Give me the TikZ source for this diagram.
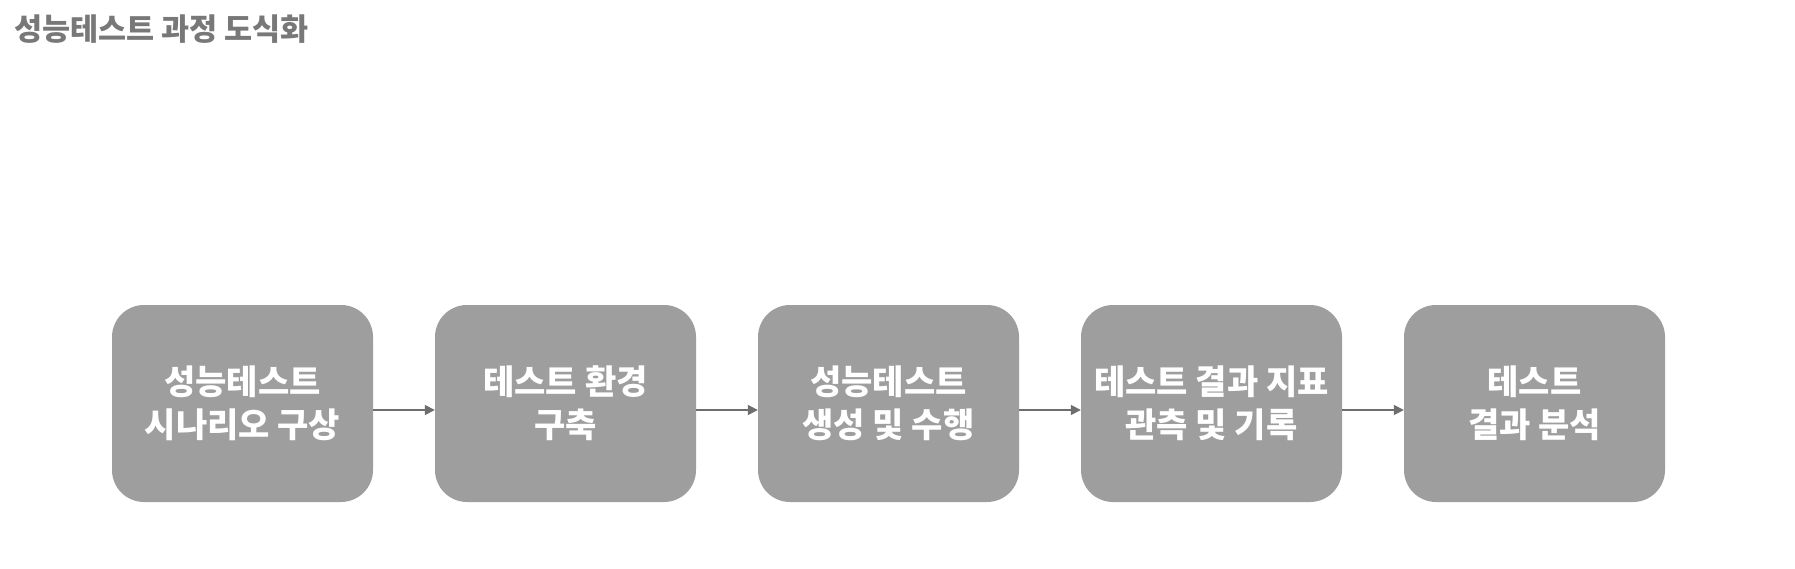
\documentclass[tikz,border=0pt]{standalone}
\usepackage{fontspec}
\newfontfamily\cjk{Noto Sans CJK KR}
\usetikzlibrary{arrows.meta}
\definecolor{boxgray}{HTML}{9E9E9E}
\definecolor{titlegray}{HTML}{787878}
\definecolor{arrowgray}{HTML}{6E6E6E}
\tikzset{
  stepbox/.style={fill=boxgray, rounded corners=32pt, minimum width=261pt, minimum height=197pt,
    text=white, align=center, inner sep=0pt, font=\cjk\bfseries\fontsize{34}{43}\selectfont},
  flowarrow/.style={draw=arrowgray, line width=1.6pt, -{Triangle[length=10pt,width=10pt]}},
  titletext/.style={anchor=west, inner sep=0pt, text=titlegray, font=\cjk\bfseries\fontsize{30.5}{34}\selectfont}
}
\begin{document}
\begin{tikzpicture}[x=1pt,y=-1pt]
\useasboundingbox (0,0) rectangle (1795,569);
\fill[white] (0,0) rectangle (1795,569);
\node[titletext] (title) at (14,29) {성능테스트 과정 도식화};
\node[stepbox] (b1) at (242.5,403.5) {성능테스트\\시나리오 구상};
\node[stepbox] (b2) at (565.5,403.5) {테스트 환경\\구축};
\node[stepbox] (b3) at (888.5,403.5) {성능테스트\\생성 및 수행};
\node[stepbox] (b4) at (1211.5,403.5) {테스트 결과 지표\\관측 및 기록};
\node[stepbox] (b5) at (1534.5,403.5) {테스트\\결과 분석};
\foreach \a/\b in {b1/b2,b2/b3,b3/b4,b4/b5}
  \draw[flowarrow] ([yshift=-6.5pt]\a.east) -- ([yshift=-6.5pt]\b.west);
\end{tikzpicture}
\end{document}
